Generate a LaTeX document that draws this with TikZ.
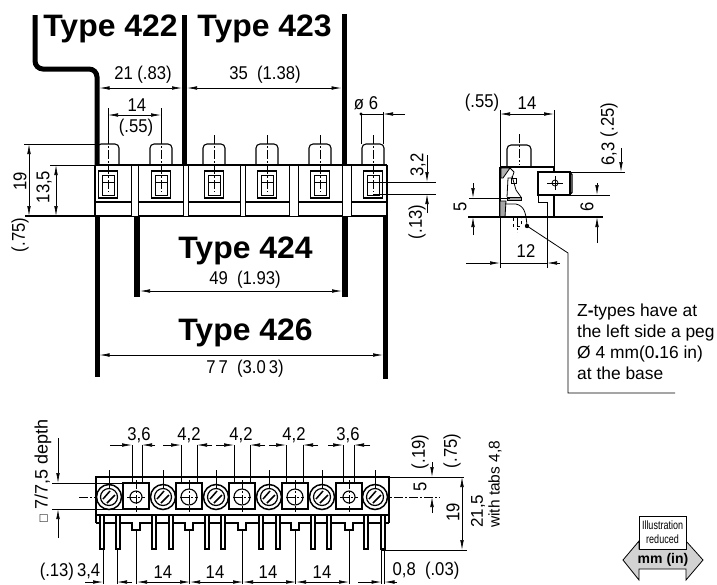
\documentclass[tikz,border=0pt]{standalone}
\usepackage{fontspec}
\setmainfont{Liberation Sans}
\newfontfamily\typefont[FakeStretch=1.03]{Liberation Sans}
\newfontfamily\dimfont[FakeStretch=0.9]{Liberation Sans}
\newfontfamily\badgefont[FakeStretch=0.75]{Liberation Sans}
\usetikzlibrary{arrows.meta}
\tikzset{
	part/.style={line width=1.1pt},
	thick bar/.style={line width=5pt},
	thin part/.style={line width=0.8pt},
	dim/.style={line width=0.7pt,>={Latex[length=10pt,width=3.6pt]}},
	ext/.style={line width=0.7pt},
	center line/.style={line width=0.6pt,dash pattern=on 9pt off 2pt on 2pt off 2pt},
	lbl/.style={font=\dimfont\fontsize{18.5}{18.5}\selectfont,inner sep=0pt},
	sidelbl/.style={lbl,rotate=90},
	typelbl/.style={font=\typefont\bfseries\fontsize{31}{31}\selectfont,inner sep=0pt},
	note/.style={font=\fontsize{17.4}{21}\selectfont,inner sep=0pt,align=left,anchor=north west}
}
\begin{document}
\begin{tikzpicture}[x=1pt,y=-1pt]
	\useasboundingbox (0,0) rectangle (717,584);
	% type labels
	\node[typelbl] (t422) at (110.5,29) {Type 422};
	\node[typelbl] (t423) at (264.5,29) {Type 423};
	\node[typelbl] (t424) at (245.5,251) {Type 424};
	\node[typelbl] (t426) at (245.5,333) {Type 426};
	% heavy lines
	\draw[thick bar,rounded corners=8pt] (35,15) -- (35,69) -- (97,69) -- (97,165);
	\draw[thick bar] (184.5,15) -- (184.5,165);
	\draw[thick bar] (344,14) -- (344,165);
	\draw[thick bar] (97,216) -- (97,377);
	\draw[line width=6pt] (137,216) -- (137,297);
	\draw[line width=6pt] (345,216) -- (345,297);
	\draw[thick bar] (385.5,216) -- (385.5,379);
	% top view
	\draw[part] (95,165) -- (95,216) (387,165) -- (387,216);
	\draw[ext] (50,165) -- (95,165);
	\draw[part] (95,165) -- (387,165);
	\draw[part] (95,202) -- (387,202);
	\draw[line width=1.5pt] (25,216) -- (387,216);
	\foreach \a/\b in {131/138,183/188,240/245,289/298,342/351} {
		\draw[thin part,fill=white] (\a,165) rectangle (\b,216);
	}
	\foreach \x in {108,161,214,267,320,373} {
		\draw[part,rounded corners=4pt] (\x-11,165) -- (\x-11,144) -- (\x+11,144) -- (\x+11,165);
		\draw[line width=1.6pt] (\x-9.5,171) rectangle (\x+9.5,198);
		\draw[line width=1pt] (\x-6,175) rectangle (\x+6,195);
		\draw[thin part] (\x-6,182) -- (\x+6,182);
		\draw[center line] (\x,135) -- (\x,192);
	}
	% top view dimensions
	\draw[dim,<->] (99.5,88) -- (182,88);
	\draw[dim,<->] (187,88) -- (341.5,88);
	\node[lbl] (d21) at (143,75) {21 (.83)};
	\node[lbl] (d35) at (265,75) {35\ \ (1.38)};
	\draw[ext] (108,108) -- (108,144) (161,108) -- (161,144);
	\draw[dim,<->] (108,115) -- (161,115);
	\node[lbl] (d14) at (137,105) {14};
	\node[lbl] (d55) at (136,128) {(.55)};
	\draw[ext] (361,114) -- (361,144) (383,112) -- (383,144);
	\draw[dim,->] (405,114) -- (383,114);
	\draw[ext] (361,114) -- (383,114);
	\fill (361,114) circle (1.6pt);
	\node[lbl] (dia) at (366,103) {ø 6};
	\draw[ext] (24,144) -- (95,144);
	\draw[dim,<->] (29,144) -- (29,216);
	\draw[dim,<->] (56,165) -- (56,216);
	\node[sidelbl] (h19) at (20,181) {19};
	\node[sidelbl] (h13) at (44,187) {13,5};
	\node[sidelbl] (h75) at (20,235) {(.75)};
	\draw[ext] (373,182) -- (436,182) (373,194) -- (436,194);
	\draw[dim,->] (427,155) -- (427,182);
	\draw[dim,->] (427,213) -- (427,194);
	\node[sidelbl] (d32) at (418,165) {3,2};
	\node[sidelbl] (d13) at (417,222) {(.13)};
	\draw[dim,<->] (140,291) -- (342,291);
	\node[lbl] (d49) at (245,280) {49\ \ (1.93)};
	\draw[dim,<->] (99.5,355) -- (383,355);
	\node[lbl] (d77) at (245,369) {7\,7\ \ (3.0\,3)};
	% side view
	\draw[part,rounded corners=4pt] (507,167) -- (507,145) -- (531,145) -- (531,167);
	\draw[center line] (519,134) -- (519,165);
	\draw[part] (500,167) -- (554,167) -- (554,172);
	\draw[part] (500,167) -- (500,217);
	\draw[part] (554,195) -- (554,217);
	\draw[part] (538,172) rectangle (570,195);
	\draw[part,rounded corners=1.5pt] (570,173) -- (572,173) -- (572,194) -- (570,194);
	\draw[thin part] (538,195) -- (538,202) -- (547,202) -- (547,217);
	\draw[thin part] (555,183) circle (3pt);
	\draw[ext] (547,183) -- (563,183) (555,176) -- (555,190);
	\draw[thin part,fill=gray!60] (501,168) -- (510,168) -- (503,178) -- (501,178) -- cycle;
	\draw[thin part] (510,168) -- (514,172) -- (512,178) -- (508,178) -- (507,197);
	\draw[thin part] (512,176) -- (516,190) -- (521,197);
	\draw[thin part] (511,178) rectangle (516,183);
	\draw[thin part,fill=gray!70] (507,197) rectangle (521,200);
	\draw[thin part,fill=gray!70] (500,201) -- (506,201) -- (505,217) -- (500,217) -- cycle;
	\draw[thin part] (505,204) -- (516,204) .. controls (524,206) and (526,212) .. (527,226);
	\draw[thin part,dashed] (513,218) -- (513,226) -- (521,226) -- (521,218);
	\draw[center line] (517,217) -- (517,232);
	\draw[part] (468,217) -- (603,217);
	\draw[ext] (570,172) -- (625,172) (570,195) -- (610,195);
	\draw[ext] (469,198) -- (510,198);
	% side view dimensions
	\draw[ext] (500,110) -- (500,167) (554,110) -- (554,167);
	\draw[dim,<->] (500,114) -- (554,114);
	\node[lbl] (p55) at (482,103) {(.55)};
	\node[lbl] (p14) at (527,103) {14};
	\draw[dim,->] (621,148) -- (621,172);
	\node[sidelbl] (d63) at (609,154) {6,3};
	\node[sidelbl] (d25) at (609,120) {(.25)};
	\draw[dim,->] (473,183) -- (473,198);
	\draw[dim,->] (473,235) -- (473,217);
	\node[sidelbl] (s5) at (460,207) {5};
	\draw[dim,->] (597,183) -- (597,195);
	\draw[dim,->] (597,243) -- (597,217);
	\node[sidelbl] (s6) at (587,207) {6};
	\draw[ext] (500,217) -- (500,268) (547,217) -- (547,268);
	\draw[dim,->] (466,263) -- (500,263);
	\draw[dim,->] (560,263) -- (547,263);
	\draw[ext] (500,263) -- (547,263);
	\node[lbl] (d12) at (526,251) {12};
	% note
	\fill (527,226) circle (2.2pt);
	\draw[thin part] (527,226) -- (568,253) -- (568,393) -- (675,393);
	\node[note] (znote) at (577,304) {Z\textbf{-}types have at\\the left side a peg\\Ø 4 mm(0\textbf{.}16 in)\\at the base};
	% bottom view
	\draw[part] (96,523) -- (96,477) -- (389,477) -- (389,523);
	\draw[part] (96,515) -- (389,515);
	\draw[part] (96,523) -- (389,523);
	\draw[center line] (79,497) -- (440,497);
	\foreach \x/\r in {136/6,189/8,242/8,295/8,349/6} {
		\draw[line width=1.4pt,fill=white] (\x-13,483) rectangle (\x+13,509);
		\draw[part] (\x,497) circle (\r pt);
		\draw[center line] (\x-9,497) -- (\x+9,497) (\x,480) -- (\x,512);
		\draw[part,fill=white] (\x-4,522) -- (\x-4,530) -- (\x+4,530) -- (\x+4,522);
		\draw[ext] (\x,530) -- (\x,584);
	}
	\foreach \x/\p/\q in {109/102/118,163/154/171,216/207/223,269/261/278,322/313/329,375/366/383} {
		\draw[line width=1.5pt,fill=white] (\x,497) circle (12.5pt);
		\draw[line width=1.2pt] (\x,497) circle (8.5pt);
		\draw[line width=1.5pt] (\x-6,499) -- (\x+1,491) (\x-2,503) -- (\x+6,495);
		\draw[ext] (\x,488) -- (\x,470);
		\draw[part,fill=white] (\p-2,516) -- (\p-2,549) -- (\p+2,549) -- (\p+2,516);
		\draw[part,fill=white] (\q-2,516) -- (\q-2,549) -- (\q+2,549) -- (\q+2,516);
	}
	% bottom view dimensions
	\foreach \a/\b/\l/\r in {132/142/110/155,181/197/163/212,234/250/216/265,286/303/269/318,343/354/328/370} {
		\draw[ext] (\a,445) -- (\a,483) (\b,445) -- (\b,483);
		\draw[dim,->] (\l,445) -- (\a,445);
		\draw[dim,->] (\r,445) -- (\b,445);
	}
	\node[lbl] (w1) at (139,435) {3,6};
	\node[lbl] (w2) at (189,435) {4,2};
	\node[lbl] (w3) at (241,435) {4,2};
	\node[lbl] (w4) at (294,435) {4,2};
	\node[lbl] (w5) at (348,435) {3,6};
	\draw[ext] (103,549) -- (103,584) (117,549) -- (117,584);
	\draw[dim,->] (85,582) -- (103,582);
	\draw[dim,->] (132,582) -- (117,582);
	\foreach \a/\b in {137/190,190/243,243/296,296/349} {
		\draw[dim,<->] (\a,582) -- (\b,582);
	}
	\draw[ext] (381.5,549) -- (381.5,584) (384.5,549) -- (384.5,584);
	\draw[dim,->] (358,582) -- (381.5,582);
	\draw[dim,->] (397,582) -- (384.5,582);
	\node[lbl] (p134) at (70,572) {(.13)\,3,4};
	\node[lbl] (p1) at (163,572) {14};
	\node[lbl] (p2) at (215,572) {14};
	\node[lbl] (p3) at (268,572) {14};
	\node[lbl] (p4) at (322,572) {14};
	\node[lbl] (p08) at (426,571) {0,8\ \ (.03)};
	\draw[ext] (389,477) -- (464,477);
	\draw[ext] (381,550) -- (467,550);
	\draw[dim,<->] (462,477) -- (462,550);
	\draw[dim,->] (432,462) -- (432,477);
	\draw[dim,->] (432,513) -- (432,497);
	\node[sidelbl] (b19) at (453,512) {19};
	\node[sidelbl] (b75) at (452,451) {(.75)};
	\node[sidelbl] (b5) at (420,487) {5};
	\node[sidelbl] (b195) at (420,452) {(.19)};
	\node[sidelbl,font=\fontsize{17}{17}\selectfont,anchor=west] (b215) at (478,528) {21,5};
	\node[sidelbl,font=\fontsize{15.5}{15.5}\selectfont,anchor=west] (btabs) at (495,528) {with tabs 4,8};
	\node[sidelbl,font=\fontsize{18}{18}\selectfont] (depth) at (43,471) {\fontsize{13}{13}\selectfont□\fontsize{18}{18}\selectfont\ 7/7,5 depth};
	\draw[ext] (52,483) -- (124,483) (52,509) -- (124,509);
	\draw[dim,->] (58,438) -- (58,483);
	\draw[dim,->] (58,538) -- (58,509);
	% scale badge
	\draw[thin part,fill=gray!35] (623,560) -- (639,541) -- (639,549) -- (686,549) -- (686,541) -- (703,560) -- (686,580) -- (686,569) -- (639,569) -- (639,580) -- cycle;
	\draw[thin part,fill=white] (639,516) rectangle (686,549);
	\node[inner sep=0pt,font=\badgefont\fontsize{12}{14}\selectfont,align=center] (illus) at (662.5,532.5) {Illustration\\reduced};
	\node[inner sep=0pt,font=\bfseries\fontsize{14}{14}\selectfont] (unit) at (663,560) {mm (in)};
\end{tikzpicture}
\end{document}
